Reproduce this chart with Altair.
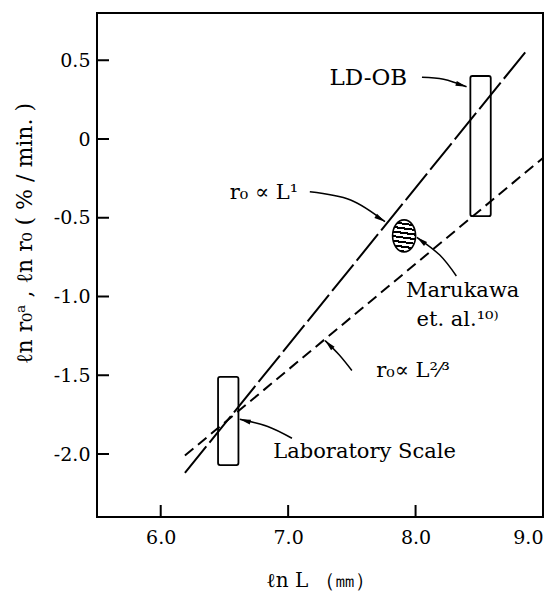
import math
import altair as alt
import pandas as pd

# ---------------- data ----------------
X_DOMAIN = [5.5, 9.0]
Y_DOMAIN = [-2.4, 0.8]
x_ticks = [6.0, 7.0, 8.0, 9.0]
x_labels = ["6.0", "7.0", "8.0", "9.0"]
y_ticks = [0.5, 0.0, -0.5, -1.0, -1.5, -2.0]
y_labels = ["0.5", "0", "-0.5", "-1.0", "-1.5", "-2.0"]

# r0 ∝ L^1 (long dashes) and r0 ∝ L^(2/3) (short dashes)
prop1_x = [6.19, 8.87]
prop1_y = [-2.12, 0.56]
prop23_x = [6.19, 9.0]
prop23_y = [-2.01, -0.12]

# rectangles (ranges)
rect_names = ["LD-OB", "Laboratory Scale"]
rect_x1 = [8.43, 6.45]
rect_x2 = [8.59, 6.61]
rect_y1 = [-0.49, -2.07]
rect_y2 = [0.40, -1.51]

# Marukawa et al. (hatched ellipse)
maru_x = [7.91]
maru_y = [-0.615]

# annotation arrows: start, middle, tip
arrow_names = ["LD-OB", "L1", "Marukawa", "L23", "Lab"]
arrow_xs = [[8.05, 8.22, 8.40], [7.17, 7.49, 7.76], [8.32, 8.19, 8.01],
            [7.50, 7.40, 7.29], [7.03, 6.84, 6.62]]
arrow_ys = [[0.392, 0.379, 0.332], [-0.335, -0.387, -0.525], [-0.87, -0.737, -0.624],
            [-1.47, -1.37, -1.28], [-1.90, -1.825, -1.78]]

# annotation texts
label_texts = ["LD-OB", "r₀ ∝ L¹", "Marukawa", "et. al.¹⁰⁾", "r₀∝ L²⁄³", "Laboratory Scale"]
label_x = [7.63, 6.81, 8.37, 8.33, 7.98, 7.60]
label_y = [0.385, -0.343, -0.965, -1.15, -1.47, -1.99]
label_size = [23, 21, 21, 21, 21, 21]

# ---------------- layout / style ----------------
W, H = 446, 504
FONT = "DejaVu Serif"
sx = W / (X_DOMAIN[1] - X_DOMAIN[0])
sy = H / (Y_DOMAIN[1] - Y_DOMAIN[0])

xs = alt.Scale(domain=X_DOMAIN, nice=False, zero=False)
ys = alt.Scale(domain=Y_DOMAIN, nice=False, zero=False)


def lbl_expr(vals, labels):
    expr = "''"
    for v, l in reversed(list(zip(vals, labels))):
        expr = f"abs(datum.value - ({v})) < 1e-6 ? '{l}' : ({expr})"
    return expr


x_axis = alt.Axis(values=x_ticks, labelExpr=lbl_expr(x_ticks, x_labels),
                  title="ℓn   L  （㎜）", ticks=False, tickSize=0, domain=False, grid=False,
                  labelPadding=11, titleY=63, titleBaseline="middle",
                  labelFont=FONT, labelFontSize=19, labelColor="black",
                  titleFont=FONT, titleFontSize=20, titleColor="black", titleFontWeight="normal")
y_axis = alt.Axis(values=y_ticks, labelExpr=lbl_expr(y_ticks, y_labels),
                  title="ℓn  r₀ᵃ ,  ℓn  r₀ ( % / min. )", ticks=False, tickSize=0,
                  domain=False, grid=False, labelPadding=7,
                  titleX=-73, titleY=220, titleBaseline="middle", titleAngle=270,
                  labelFont=FONT, labelFontSize=19, labelColor="black",
                  titleFont=FONT, titleFontSize=22, titleColor="black", titleFontWeight="normal")

lines_df = pd.DataFrame({
    "series": ["L1"] * len(prop1_x) + ["L23"] * len(prop23_x),
    "x": prop1_x + prop23_x,
    "y": prop1_y + prop23_y,
})
lines = alt.Chart(lines_df).mark_line(color="black", strokeWidth=2).encode(
    x=alt.X("x:Q", scale=xs, axis=x_axis),
    y=alt.Y("y:Q", scale=ys, axis=y_axis),
    detail="series:N",
    strokeDash=alt.StrokeDash("series:N", legend=None,
                              scale=alt.Scale(domain=["L1", "L23"], range=[[34, 5], [11, 6]])),
)

ytick = alt.Chart(pd.DataFrame({"y": y_ticks})).mark_tick(
    orient="horizontal", color="black", thickness=2, size=12, xOffset=6, opacity=1
).encode(x=alt.X(datum=X_DOMAIN[0], type="quantitative"), y=alt.Y("y:Q"))

xtick = alt.Chart(pd.DataFrame({"x": x_ticks})).mark_tick(
    orient="vertical", color="black", thickness=2, size=12, yOffset=-6, opacity=1
).encode(x=alt.X("x:Q"), y=alt.Y(datum=Y_DOMAIN[0], type="quantitative"))

rects = alt.Chart(pd.DataFrame({"name": rect_names, "x1": rect_x1, "x2": rect_x2,
                                "y1": rect_y1, "y2": rect_y2})).mark_rect(
    fill="transparent", stroke="black", strokeWidth=1.8, cornerRadius=2
).encode(x="x1:Q", x2="x2", y="y1:Q", y2="y2")

# hatched ellipse
a, b, k = 0.72, 1.0, 0.5523
ellipse_path = (f"M{a},0 C{a},{k*b} {k*a},{b} 0,{b} C{-k*a},{b} {-a},{k*b} {-a},0 "
                f"C{-a},{-k*b} {-k*a},{-b} 0,{-b} C{k*a},{-b} {a},{-k*b} {a},0 Z")
n_stripes = 7
stops = []
for i in range(n_stripes):
    s0 = i / n_stripes
    d0 = s0 + 0.35 / n_stripes
    d1 = s0 + 0.8 / n_stripes
    stops += [alt.GradientStop(offset=round(d0, 4), color="white"),
              alt.GradientStop(offset=round(d0, 4), color="black"),
              alt.GradientStop(offset=round(d1, 4), color="black"),
              alt.GradientStop(offset=round(d1, 4), color="white")]
hatch = alt.LinearGradient(gradient="linear", stops=[alt.GradientStop(offset=0, color="white")] + stops
                           + [alt.GradientStop(offset=1, color="white")],
                           x1=0.1, y1=0, x2=0, y2=1)
ellipse = alt.Chart(pd.DataFrame({"x": maru_x, "y": maru_y})).mark_point(
    shape=ellipse_path, size=1024, filled=True, fill=hatch, stroke="black",
    strokeWidth=1.6, opacity=1
).encode(x="x:Q", y="y:Q")

rows = []
heads = []
for name, axs, ays in zip(arrow_names, arrow_xs, arrow_ys):
    for i, (xv, yv) in enumerate(zip(axs, ays)):
        rows.append({"arrow": name, "i": i, "x": xv, "y": yv})
    vx = (axs[-1] - axs[-2]) * sx
    vy = -(ays[-1] - ays[-2]) * sy
    ang = math.degrees(math.atan2(vx, -vy)) % 360
    heads.append({"arrow": name, "x": axs[-1], "y": ays[-1], "angle": ang})

arrows = alt.Chart(pd.DataFrame(rows)).mark_line(
    interpolate="natural", color="black", strokeWidth=1.5
).encode(x="x:Q", y="y:Q", detail="arrow:N", order="i:O")

head_path = "M0,0 L0.45,2 L-0.45,2 Z"
arrowheads = alt.Chart(pd.DataFrame(heads)).mark_point(
    shape=head_path, size=121, filled=True, color="black", opacity=1
).encode(x="x:Q", y="y:Q", angle=alt.Angle("angle:Q", scale=None))

texts = alt.Chart(pd.DataFrame({"t": label_texts, "x": label_x, "y": label_y,
                                "fs": label_size})).mark_text(
    font=FONT, color="black", align="center", baseline="middle"
).encode(x="x:Q", y="y:Q", text="t:N", size=alt.Size("fs:Q", scale=None, legend=None))

chart = alt.layer(lines, ytick, xtick, rects, ellipse, arrows, arrowheads, texts).properties(
    width=W, height=H,
    padding={"left": 97, "top": 13, "right": 3, "bottom": 75},
    autosize=alt.AutoSizeParams(type="none"),
    background="white",
).configure_view(stroke="black", strokeWidth=2)

chart.save("out.html", embed_options={"renderer": "svg", "actions": False})
